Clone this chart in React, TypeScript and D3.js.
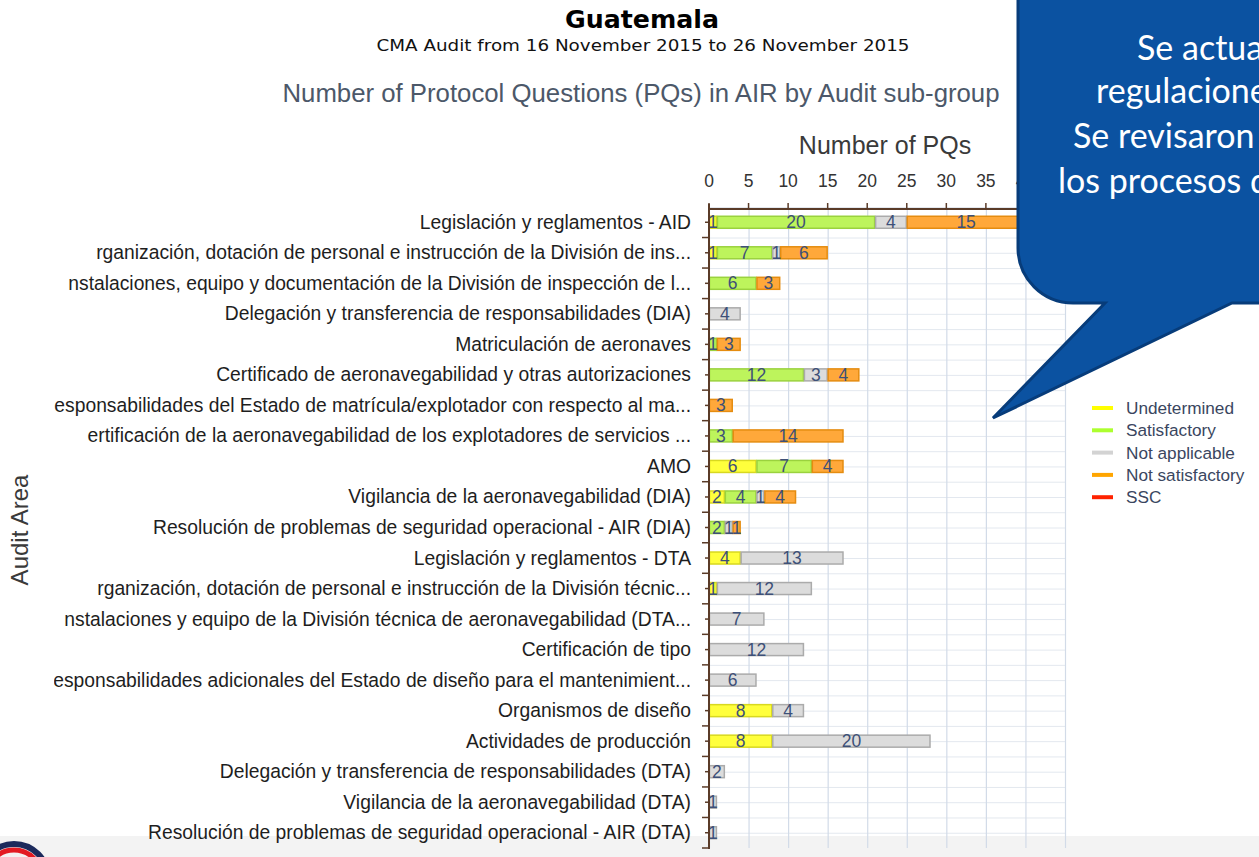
import React from "react";
import * as d3 from "d3";

const categories = [
  "Legislación y reglamentos - AID",
  "rganización, dotación de personal e instrucción de la División de ins...",
  "nstalaciones, equipo y documentación de la División de inspección de l...",
  "Delegación y transferencia de responsabilidades (DIA)",
  "Matriculación de aeronaves",
  "Certificado de aeronavegabilidad y otras autorizaciones",
  "esponsabilidades del Estado de matrícula/explotador con respecto al ma...",
  "ertificación de la aeronavegabilidad de los explotadores de servicios ...",
  "AMO",
  "Vigilancia de la aeronavegabilidad (DIA)",
  "Resolución de problemas de seguridad operacional - AIR (DIA)",
  "Legislación y reglamentos - DTA",
  "rganización, dotación de personal e instrucción de la División técnic...",
  "nstalaciones y equipo de la División técnica de aeronavegabilidad (DTA...",
  "Certificación de tipo",
  "esponsabilidades adicionales del Estado de diseño para el mantenimient...",
  "Organismos de diseño",
  "Actividades de producción",
  "Delegación y transferencia de responsabilidades (DTA)",
  "Vigilancia de la aeronavegabilidad (DTA)",
  "Resolución de problemas de seguridad operacional - AIR (DTA)",
];

const undetermined = [1, 1, 0, 0, 0, 0, 0, 0, 6, 2, 0, 4, 1, 0, 0, 0, 8, 8, 0, 0, 0];
const satisfactory = [20, 7, 6, 0, 1, 12, 0, 3, 7, 4, 2, 0, 0, 0, 0, 0, 0, 0, 0, 0, 0];
const notApplicable = [4, 1, 0, 4, 0, 3, 0, 0, 0, 1, 1, 13, 12, 7, 12, 6, 4, 20, 2, 1, 1];
const notSatisfactory = [15, 6, 3, 0, 3, 4, 3, 14, 4, 4, 1, 0, 0, 0, 0, 0, 0, 0, 0, 0, 0];
const ssc = [0, 0, 0, 0, 0, 0, 0, 0, 0, 0, 0, 0, 0, 0, 0, 0, 0, 0, 0, 0, 0];

const xGridTicks = [0, 5, 10, 15, 20, 25, 30, 35, 40, 45];
const xTickLabels = [0, 5, 10, 15, 20, 25, 30, 35, 40];

const seriesNames = ["Undetermined", "Satisfactory", "Not applicable", "Not satisfactory", "SSC"];
const seriesFill = ["#ffff3c", "#bdf45c", "#dcdcdc", "#ffa83a", "#ff2a00"];
const seriesStroke = ["#d8d820", "#9ad23e", "#ababab", "#e58c10", "#cc0000"];
const legendColors = ["#ffff00", "#adff2f", "#d3d3d3", "#ffa500", "#ff2200"];

const calloutLines = ["Se actua", "regulacione", "Se revisaron", "los procesos d"];

export default function App() {
  const W = 1259;
  const H = 857;
  const x = d3.scaleLinear().domain([0, 45]).range([709, 1065]);
  const y = d3.scaleBand<string>().domain(categories).range([207, 848]);
  const bw = y.bandwidth();

  const rows = categories.map((c, i) => ({
    cat: c,
    U: undetermined[i],
    S: satisfactory[i],
    NA: notApplicable[i],
    NS: notSatisfactory[i],
    SSC: ssc[i],
  }));
  const keys = ["U", "S", "NA", "NS", "SSC"];
  const stack = d3.stack<any>().keys(keys)(rows);

  const halfLines: number[] = [];
  categories.forEach((c) => {
    halfLines.push(y(c) as number);
    halfLines.push((y(c) as number) + bw / 2);
  });

  const barH = 12;

  const calloutPath = [
    "M1018,-10",
    "L1018,248",
    "A55,55 0 0 0 1073,303",
    "L1105,303",
    "L993,418",
    "L1232,303",
    "L1275,303",
    "L1275,-10",
    "Z",
  ].join(" ");

  return (
    <svg
      width={W}
      height={H}
      style={{ position: "absolute", left: 0, top: 0, display: "block", background: "#ffffff" }}
      fontFamily="'Liberation Sans', Arial, sans-serif"
    >
      <defs>
        <clipPath id="labelClip">
          <rect x={54} y={0} width={W} height={H} />
        </clipPath>
      </defs>
      {/* footer strip */}
      <rect x={0} y={836} width={W} height={21} fill="#f3f3f3" />
      <g fill="none">
        <circle cx={14} cy={878} r={34} stroke="#1c2a5c" strokeWidth={6} />
        <circle cx={14} cy={878} r={28} stroke="#e31b23" strokeWidth={5} />
      </g>

      {/* titles */}
      <text x={642} y={28} textAnchor="middle" fontFamily="'DejaVu Sans', Verdana, sans-serif" fontWeight="bold" fontSize={24} textLength={154} lengthAdjust="spacingAndGlyphs" fill="#000">
        Guatemala
      </text>
      <text x={643} y={51} textAnchor="middle" fontFamily="'DejaVu Sans', Verdana, sans-serif" fontSize={16} textLength={533} lengthAdjust="spacingAndGlyphs" fill="#111">
        CMA Audit from 16 November 2015 to 26 November 2015
      </text>
      <text x={641} y={102} textAnchor="middle" fontSize={25} textLength={717} lengthAdjust="spacingAndGlyphs" fill="#4c5869">
        Number of Protocol Questions (PQs) in AIR by Audit sub-group
      </text>
      <text x={885} y={154} textAnchor="middle" fontSize={25} fill="#3a3a3a">
        Number of PQs
      </text>

      {/* grid */}
      <g>
        {halfLines.map((v, i) => (
          <line key={"h" + i} x1={709} x2={1065} y1={v + 0.5} y2={v + 0.5} stroke="#e3e8ef" strokeWidth={1} />
        ))}
        {xGridTicks.map((t) => (
          <line key={"v" + t} x1={x(t) + 0.5} x2={x(t) + 0.5} y1={209} y2={848} stroke="#d2dbe8" strokeWidth={1.2} />
        ))}
      </g>

      {/* top axis */}
      <g>
        <line x1={708} x2={1065} y1={209} y2={209} stroke="#5a3b28" strokeWidth={2} />
        {xGridTicks.map((t) => (
          <line key={"tk" + t} x1={x(t)} x2={x(t)} y1={203} y2={210} stroke="#5a3b28" strokeWidth={1.5} />
        ))}
        {xTickLabels.map((t) => (
          <text key={"t" + t} x={x(t)} y={187} textAnchor="middle" fontSize={17.5} fill="#333">
            {t}
          </text>
        ))}
      </g>

      {/* bars */}
      <g>
        {stack.map((layer, si) =>
          layer.map((d, i) => {
            const v = d[1] - d[0];
            if (v <= 0) return null;
            const cy = (y(categories[i]) as number) + bw / 2;
            return (
              <rect
                key={si + "-" + i}
                x={x(d[0]) + 0.5}
                y={cy - barH / 2}
                width={Math.max(0, x(d[1]) - x(d[0]) - 1)}
                height={barH}
                fill={seriesFill[si]}
                stroke={seriesStroke[si]}
                strokeWidth={1.5}
              />
            );
          })
        )}
        {stack.map((layer, si) =>
          layer.map((d, i) => {
            const v = d[1] - d[0];
            if (v <= 0) return null;
            const cy = (y(categories[i]) as number) + bw / 2;
            return (
              <text
                key={"l" + si + "-" + i}
                x={(x(d[0]) + x(d[1])) / 2}
                y={cy + 6}
                textAnchor="middle"
                fontSize={17.5}
                fill="#3d5078"
              >
                {v}
              </text>
            );
          })
        )}
      </g>

      {/* left axis */}
      <g>
        <line x1={709} x2={709} y1={204} y2={849} stroke="#5a3b28" strokeWidth={2} />
        {categories.map((c, i) => {
          const top = y(c) as number;
          return (
            <g key={"lt" + i}>
              <line x1={702} x2={709} y1={top + bw} y2={top + bw} stroke="#5a3b28" strokeWidth={1.5} />
              <line x1={705} x2={709} y1={top + bw / 2} y2={top + bw / 2} stroke="#5a3b28" strokeWidth={1.5} />
            </g>
          );
        })}
      </g>

      {/* category labels */}
      <g clipPath="url(#labelClip)">
        {categories.map((c, i) => (
          <text key={"c" + i} x={691} y={(y(c) as number) + bw / 2 + 6.5} textAnchor="end" fontSize={19.3} fill="#1e1e1e">
            {c}
          </text>
        ))}
      </g>

      <text transform="translate(28,530) rotate(-90)" textAnchor="middle" fontSize={24} fill="#3a3a3a">
        Audit Area
      </text>

      {/* legend */}
      <g>
        {seriesNames.map((n, i) => (
          <g key={"lg" + i} transform={`translate(0,${408 + i * 22.3})`}>
            <line x1={1092} x2={1113} y1={0} y2={0} stroke={legendColors[i]} strokeWidth={4} />
            <text x={1126} y={6} fontSize={17.2} fill="#3a4660">
              {n}
            </text>
          </g>
        ))}
      </g>

      {/* callout */}
      <path d={calloutPath} fill="#0b52a1" stroke="#073c7a" strokeWidth={3} strokeLinejoin="miter" />
      <g fontFamily="Lato, 'Open Sans', sans-serif" fontSize={34} fill="#ffffff">
        <text x={1137} y={60}>{calloutLines[0]}</text>
        <text x={1096} y={103}>{calloutLines[1]}</text>
        <text x={1073} y={148}>{calloutLines[2]}</text>
        <text x={1058} y={193}>{calloutLines[3]}</text>
      </g>
    </svg>
  );
}
